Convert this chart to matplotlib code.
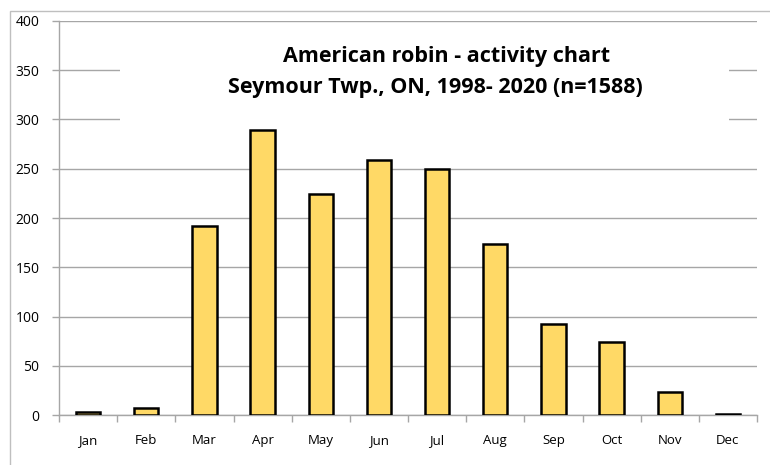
import numpy as np
import matplotlib.pyplot as plt
from matplotlib.patches import Rectangle

months = ["Jan", "Feb", "Mar", "Apr", "May", "Jun",
          "Jul", "Aug", "Sep", "Oct", "Nov", "Dec"]
counts = [3, 7, 192, 289, 224, 259, 250, 174, 92, 74, 23, 1]
yticks = [0, 50, 100, 150, 200, 250, 300, 350, 400]
title1 = "American robin - activity chart"
title2 = "Seymour Twp., ON, 1998- 2020 (n=1588)"

W, H = 770, 465
plt.rcParams['font.family'] = ['Open Sans', 'DejaVu Sans']

fig = plt.figure(figsize=(W / 100, H / 100), dpi=100)
# outer border of the chart area
fig.patches.append(Rectangle((10 / W, -0.01), 1.1, 1 - 11 / H + 0.01,
                             transform=fig.transFigure, fill=False,
                             edgecolor="#BFBFBF", linewidth=1))

ax = fig.add_axes([59 / W, 50 / H, (757 - 59) / W, (415 - 21) / H])
x = np.arange(len(months))
ax.bar(x, counts, width=0.42, color="#FFD966", edgecolor="black",
       linewidth=1.8, zorder=3)

ax.set_xlim(-0.5, len(months) - 0.5)
ax.set_ylim(0, 400)
ax.set_yticks(yticks)
ax.set_xticks(x)
ax.set_xticklabels(months)
ax.set_xticks(np.arange(-0.5, len(months)), minor=True)
ax.tick_params(axis="x", which="major", length=0, pad=14, labelsize=9.5)
ax.tick_params(axis="x", which="minor", length=5, color="#A6A6A6", width=1)
ax.tick_params(axis="y", length=5, color="#A6A6A6", width=1, labelsize=10, pad=9)

ax.yaxis.grid(True, color="#A6A6A6", linewidth=1)
ax.set_axisbelow(True)
for s in ["top", "right"]:
    ax.spines[s].set_visible(False)
for s in ["left", "bottom"]:
    ax.spines[s].set_color("#A6A6A6")
    ax.spines[s].set_linewidth(1)

# white box behind the title, hides the gridlines
fig.patches.append(Rectangle((120 / W, 1 - 123 / H), (729 - 120) / W, 80 / H,
                             transform=fig.transFigure, facecolor="white",
                             edgecolor="none", zorder=2))
fig.text(447 / W, 1 - 56 / H, title1, ha="center", va="center",
         fontsize=15.5, fontweight="bold", zorder=5)
fig.text(435 / W, 1 - 88 / H, title2, ha="center", va="center",
         fontsize=15.5, fontweight="bold", zorder=5)

fig.savefig("out.png", dpi=100)
